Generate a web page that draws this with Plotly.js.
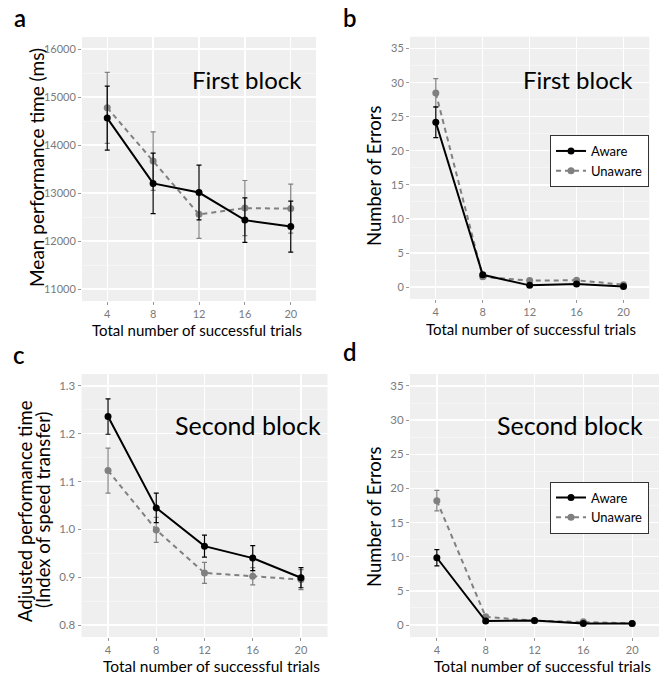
<!DOCTYPE html>
<html>
<head>
<meta charset="utf-8">
<script src="https://cdn.plot.ly/plotly-3.0.1.min.js"></script>
<style>html,body{margin:0;padding:0;background:#fff;}#chart{width:661px;height:675px;}</style>
</head>
<body>
<div id="chart"></div>
<script>
// ---- data ----
const trials = [4, 8, 12, 16, 20];
const groups = ["Aware", "Unaware"];

// panel a: first block, mean performance time (ms)
const aAware = [14560, 13200, 13010, 12435, 12300];
const aAwareSE = [665, 630, 570, 465, 530];
const aUnaware = [14775, 13665, 12555, 12685, 12675];
const aUnawareSE = [740, 610, 500, 575, 510];

// panel b: first block, number of errors
const bAware = [24.2, 1.8, 0.25, 0.45, 0.1];
const bAwareSE = [2.25, 0.3, 0.15, 0.2, 0.1];
const bUnaware = [28.5, 1.5, 0.95, 1.0, 0.35];
const bUnawareSE = [2.1, 0.3, 0.25, 0.25, 0.15];

// panel c: second block, adjusted performance time
const cAware = [1.236, 1.045, 0.965, 0.940, 0.899];
const cAwareSE = [0.037, 0.031, 0.023, 0.026, 0.021];
const cUnaware = [1.123, 0.999, 0.909, 0.902, 0.895];
const cUnawareSE = [0.047, 0.026, 0.022, 0.018, 0.021];

// panel d: second block, number of errors
const dAware = [9.85, 0.58, 0.68, 0.24, 0.24];
const dAwareSE = [1.2, 0.2, 0.15, 0.1, 0.1];
const dUnaware = [18.2, 1.2, 0.63, 0.48, 0.24];
const dUnawareSE = [1.5, 0.25, 0.15, 0.15, 0.1];

// titles
const xTitle = "Total number of successful trials";
const yTitleA = "Mean performance time (ms)";
const yTitleErr = "Number of Errors";
const yTitleC1 = "Adjusted performance time";
const yTitleC2 = "(Index of speed transfer)";
const blockLabels = ["First block", "Second block"];
const panelLetters = ["a", "b", "c", "d"];

// ---- styles ----
const FONT = "Lato, Open Sans, sans-serif";
const BLACK = "#000000";
const GREY = "#808080";
const W = 661, H = 675;

function tr(x, y, se, grp, xa, ya, showleg, legName) {
  const aware = grp === "Aware";
  const col = aware ? BLACK : GREY;
  return {
    type: "scatter", mode: "lines+markers",
    x: x, y: y, name: grp, xaxis: xa, yaxis: ya,
    showlegend: showleg, legend: legName,
    line: {color: col, width: 2, dash: aware ? "solid" : "5px,4px"},
    marker: {color: col, size: 7},
    error_y: {type: "data", array: se, visible: true, color: col, thickness: 1.2, width: 2.5},
    hoverinfo: "skip"
  };
}

const data = [
  tr(trials, aUnaware, aUnawareSE, groups[1], "x", "y", false, "legend"),
  tr(trials, aAware, aAwareSE, groups[0], "x", "y", false, "legend"),
  tr(trials, bUnaware, bUnawareSE, groups[1], "x2", "y2", true, "legend"),
  tr(trials, bAware, bAwareSE, groups[0], "x2", "y2", true, "legend"),
  tr(trials, cUnaware, cUnawareSE, groups[1], "x3", "y3", false, "legend2"),
  tr(trials, cAware, cAwareSE, groups[0], "x3", "y3", false, "legend2"),
  tr(trials, dUnaware, dUnawareSE, groups[1], "x4", "y4", true, "legend2"),
  tr(trials, dAware, dAwareSE, groups[0], "x4", "y4", true, "legend2")
];

function px(x0, x1) { return [x0 / W, x1 / W]; }
function py(top, bottom) { return [1 - bottom / H, 1 - top / H]; }

function xax(dom, anchor, fs) {
  return {
    domain: dom, anchor: anchor, range: [1.8, 22.2],
    tickmode: "array", tickvals: trials, ticktext: trials.map(String),
    ticks: "outside", ticklen: 3, tickcolor: "#999", tickwidth: 1,
    tickfont: {family: FONT, size: fs, color: "#7a7a7a"},
    showgrid: true, gridcolor: "#ffffff", gridwidth: 1.3,
    zeroline: false, showline: false
  };
}
function yax(dom, anchor, range, dtick, fmt, fs) {
  return {
    domain: dom, anchor: anchor, range: range, dtick: dtick, tick0: 0, tickformat: fmt,
    ticks: "outside", ticklen: 3, tickcolor: "#999", tickwidth: 1,
    tickfont: {family: FONT, size: fs, color: "#7a7a7a"},
    showgrid: true, gridcolor: "#ffffff", gridwidth: 1.3,
    minor: {dtick: dtick / 2, showgrid: true, gridcolor: "#f8f8f8", gridwidth: 0.6, ticks: ""},
    zeroline: false, showline: false
  };
}

const BG = "#efefef";

function ann(text, x, y, xanchor, size, opts) {
  const o = opts || {};
  return {text: text, xref: "paper", yref: "paper", x: x / W, y: 1 - y / H,
          xanchor: xanchor, yanchor: "middle", showarrow: false, textangle: o.angle || 0,
          font: {family: FONT, size: size, color: "#000", weight: o.weight || 400}};
}

const legendStyle = {
  xanchor: "left", yanchor: "top", traceorder: "reversed",
  bgcolor: "#ffffff", bordercolor: "#333", borderwidth: 1,
  font: {family: FONT, size: 13, color: "#000"}, tracegroupgap: 0, itemwidth: 30
};

const layout = {
  width: W, height: H,
  margin: {l: 0, r: 0, t: 0, b: 0},
  paper_bgcolor: "#ffffff", plot_bgcolor: BG,
  showlegend: true,
  xaxis: xax(px(82, 316), "y", 11),
  yaxis: yax(py(37, 301), "x", [10750, 16250], 1000, "d", 11),
  xaxis2: xax(px(410, 649.3), "y2", 11),
  yaxis2: yax(py(36.7, 299), "x2", [-1.75, 36.75], 5, "d", 11),
  xaxis3: xax(px(81.5, 327.5), "y3", 11),
  yaxis3: yax(py(374, 637), "x3", [0.775, 1.325], 0.1, ".1f", 11.5),
  xaxis4: xax(px(410, 659), "y4", 11),
  yaxis4: yax(py(374, 637), "x4", [-1.75, 36.75], 5, "d", 11.5),
  legend: Object.assign({x: 550 / W, y: 1 - 135 / H}, legendStyle),
  legend2: Object.assign({x: 550 / W, y: 1 - 481.5 / H}, legendStyle),
  annotations: [
    ann(blockLabels[0], 304, 80, "right", 24),
    ann(blockLabels[0], 635, 80, "right", 24),
    ann(blockLabels[1], 323, 425, "right", 25),
    ann(blockLabels[1], 645, 425, "right", 25),
    ann(panelLetters[0], 20, 18, "center", 24, {weight: 600}),
    ann(panelLetters[1], 350, 18, "center", 24, {weight: 600}),
    ann(panelLetters[2], 19, 354, "center", 24, {weight: 600}),
    ann(panelLetters[3], 350, 352, "center", 24, {weight: 600}),
    ann(xTitle, 197, 330, "center", 15),
    ann(xTitle, 530.5, 329, "center", 15),
    ann(xTitle, 211, 666, "center", 15.5),
    ann(xTitle, 542.5, 666, "center", 15.5),
    ann(yTitleA, 36, 168, "center", 19, {angle: -90}),
    ann(yTitleErr, 374, 176, "center", 18.5, {angle: -90}),
    ann(yTitleC1, 25, 511, "center", 18.5, {angle: -90}),
    ann(yTitleC2, 43, 510, "center", 18.5, {angle: -90}),
    ann(yTitleErr, 374, 517, "center", 18.5, {angle: -90})
  ]
};

Plotly.newPlot("chart", data, layout, {staticPlot: true, displayModeBar: false});
</script>
</body>
</html>
